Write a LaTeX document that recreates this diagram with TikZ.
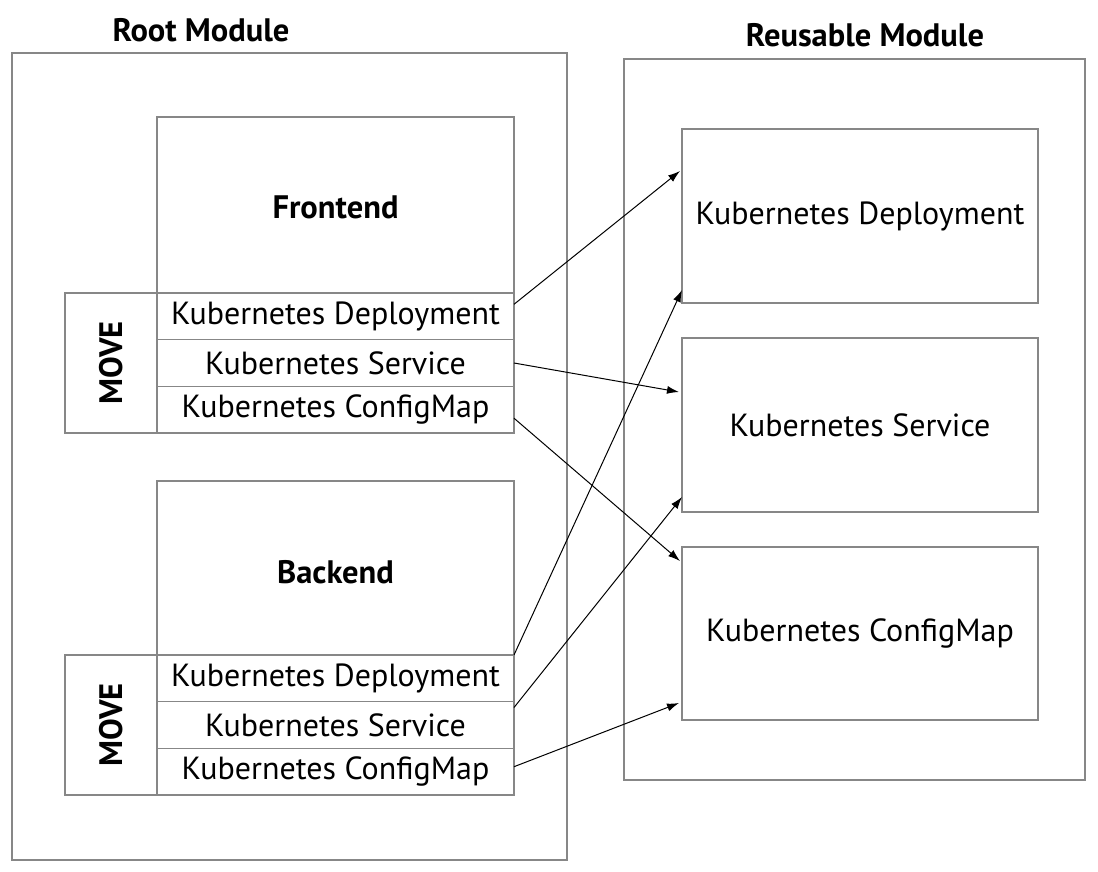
\documentclass[tikz,border=0pt]{standalone}
\usepackage{fontspec}
\setmainfont{PT Sans}
\usetikzlibrary{arrows.meta}
\definecolor{boxgray}{RGB}{135,135,135}
\tikzset{
  box/.style={draw=boxgray, line width=1.3pt, rectangle, inner sep=0pt, outer sep=0pt},
  rowtxt/.style={font=\fontsize{32}{36}\selectfont},
  headtxt/.style={font=\bfseries\fontsize{32.5}{36}\selectfont},
  link/.style={draw=black, line width=1pt, -{Latex[length=12pt,width=8pt]}}
}
\begin{document}
\begin{tikzpicture}[x=1pt,y=-1pt]
\useasboundingbox (0,0) rectangle (1098,871);
% outer modules
\node[box, minimum width=555pt, minimum height=807pt] (root) at (289.5,456.5) {};
\node[headtxt] (roottitle) at (201,30) {Root Module};
\node[box, minimum width=461pt, minimum height=721pt] (reuse) at (854.5,419.5) {};
\node[headtxt] (reusetitle) at (865,35) {Reusable Module};
% frontend
\node[box, minimum width=357pt, minimum height=176pt] (fe) at (335.5,205) {};
\node[headtxt] (fetxt) at (335.5,207) {Frontend};
\node[box, minimum width=357pt, minimum height=46.7pt, rowtxt] (fdep) at (335.5,316.3) {Kubernetes Deployment};
\node[box, minimum width=357pt, minimum height=46.7pt, rowtxt] (fsvc) at (335.5,363) {Kubernetes Service};
\node[box, minimum width=357pt, minimum height=46.7pt, rowtxt] (fcm) at (335.5,409.7) {Kubernetes ConfigMap};
\node[box, minimum width=92pt, minimum height=140pt] (fmove) at (111,363) {};
\node[headtxt, rotate=90] (fmovetxt) at (111,363) {MOVE};
% backend
\node[box, minimum width=357pt, minimum height=174pt] (be) at (335.5,568) {};
\node[headtxt] (betxt) at (335.5,572) {Backend};
\node[box, minimum width=357pt, minimum height=46.7pt, rowtxt] (bdep) at (335.5,678.3) {Kubernetes Deployment};
\node[box, minimum width=357pt, minimum height=46.7pt, rowtxt] (bsvc) at (335.5,725) {Kubernetes Service};
\node[box, minimum width=357pt, minimum height=46.7pt, rowtxt] (bcm) at (335.5,771.7) {Kubernetes ConfigMap};
\node[box, minimum width=92pt, minimum height=140pt] (bmove) at (111,725) {};
\node[headtxt, rotate=90] (bmovetxt) at (111,725) {MOVE};
% reusable module resources
\node[box, minimum width=356pt, minimum height=174pt, rowtxt] (rdep) at (860,216) {Kubernetes Deployment};
\node[box, minimum width=356pt, minimum height=174pt, rowtxt] (rsvc) at (860,425) {Kubernetes Service};
\node[box, minimum width=356pt, minimum height=173pt, rowtxt] (rcm) at (860,633.5) {Kubernetes ConfigMap};
% connectors
\draw[link] ([yshift=12pt]fdep.east) -- ([yshift=45pt,xshift=-2pt]rdep.west);
\draw[link] (fsvc.east) -- ([yshift=33pt,xshift=-3pt]rsvc.west);
\draw[link] ([yshift=-8.5pt]fcm.east) -- ([yshift=72.5pt,xshift=-2pt]rcm.west);
\draw[link] (bdep.north east) -- ([yshift=-74pt]rdep.west);
\draw[link] ([yshift=17.5pt]bsvc.east) -- ([yshift=-72pt]rsvc.west);
\draw[link] ([yshift=5pt]bcm.east) -- ([yshift=-69.5pt,xshift=-3pt]rcm.west);
\end{tikzpicture}
\end{document}
